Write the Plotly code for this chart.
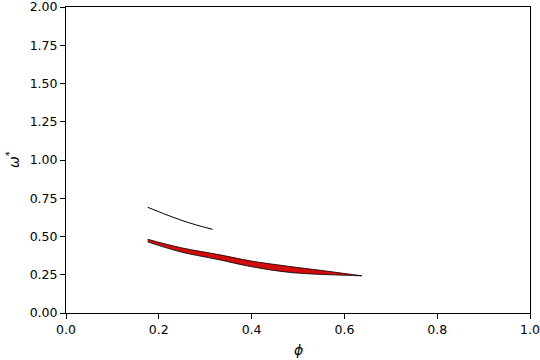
import plotly.graph_objects as go

# Black curve
line_phi = [0.176, 0.20, 0.22, 0.247, 0.28, 0.316]
line_omega = [0.691, 0.662, 0.638, 0.608, 0.576, 0.547]

# Red band: upper and lower boundaries
band_phi = [0.176, 0.246, 0.332, 0.397, 0.483, 0.569, 0.638]
band_upper = [0.482, 0.428, 0.380, 0.341, 0.304, 0.271, 0.243]
band_lower = [0.465, 0.400, 0.347, 0.304, 0.265, 0.250, 0.243]

x_ticks = [0.0, 0.2, 0.4, 0.6, 0.8, 1.0]
x_ticklabels = ["0.0", "0.2", "0.4", "0.6", "0.8", "1.0"]
y_ticks = [0.0, 0.25, 0.5, 0.75, 1.0, 1.25, 1.5, 1.75, 2.0]
y_ticklabels = ["0.00", "0.25", "0.50", "0.75", "1.00", "1.25", "1.50", "1.75", "2.00"]

fig = go.Figure()
fig.add_trace(go.Scatter(
    x=band_phi + band_phi[::-1],
    y=band_upper + band_lower[::-1],
    fill="toself", fillcolor="#d00c0c",
    line=dict(color="black", width=0.8, shape="spline"),
    mode="lines", showlegend=False, hoverinfo="skip"))
fig.add_trace(go.Scatter(
    x=line_phi, y=line_omega, mode="lines",
    line=dict(color="black", width=1, shape="spline"),
    showlegend=False))

axis_common = dict(showgrid=False, zeroline=False, showline=True, linecolor="black",
                   linewidth=1, mirror=True, ticks="outside", ticklen=5, tickcolor="black",
                   tickfont=dict(size=12.5, color="black"), automargin=False,
                   ticklabeloverflow="allow")
fig.update_xaxes(range=[0, 1.000001], tickvals=x_ticks, ticktext=x_ticklabels, **axis_common)
fig.update_yaxes(range=[0, 2.000002], tickvals=y_ticks, ticktext=y_ticklabels, **axis_common)

fig.add_annotation(text="<i>ϕ</i>", xref="paper", yref="paper", x=0.5, y=0,
                   xanchor="center", yanchor="middle", yshift=-37, showarrow=False,
                   font=dict(size=14, color="black"))
fig.add_annotation(text="<i>ω</i><sup>*</sup>", xref="paper", yref="paper", x=0, y=0.5,
                   xanchor="center", yanchor="middle", xshift=-53, textangle=-90,
                   showarrow=False, font=dict(size=14, color="black"))

fig.update_layout(width=540, height=360,
                  margin=dict(l=66, r=10, t=7, b=47),
                  paper_bgcolor="white", plot_bgcolor="white",
                  font=dict(family="DejaVu Sans", color="black"))
fig.write_html("out.html", config={"displayModeBar": False},
               post_script="document.body.style.margin='0';")
